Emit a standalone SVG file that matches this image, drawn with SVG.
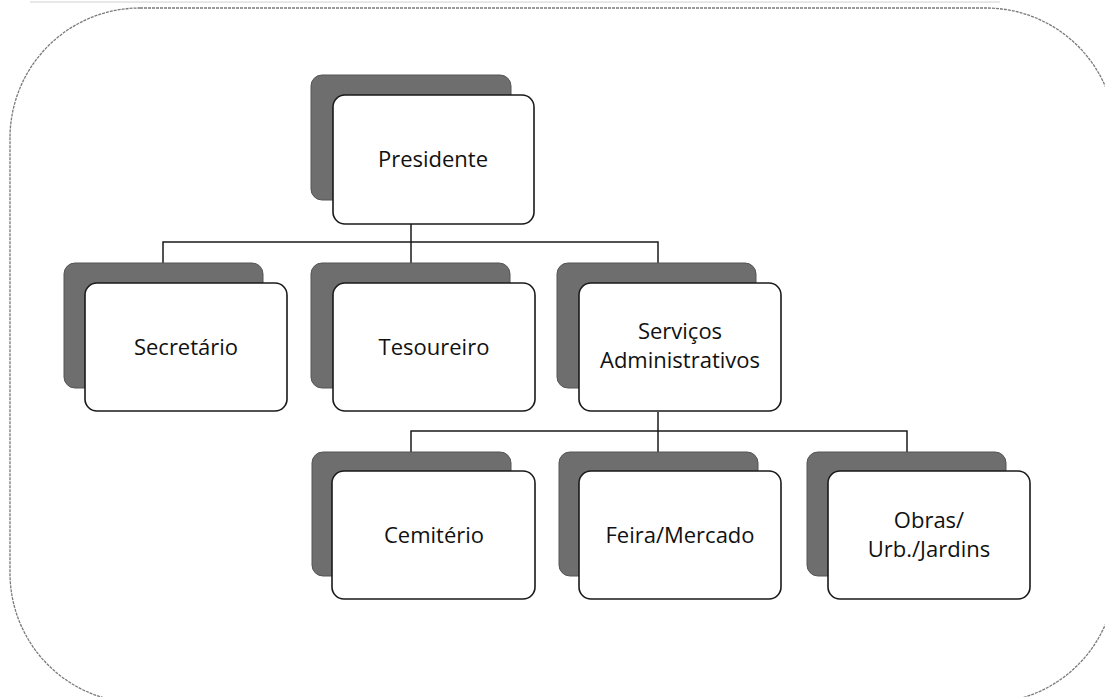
<svg xmlns="http://www.w3.org/2000/svg" width="1105" height="697" viewBox="0 0 1105 697">
<style>
.frame{fill:none;stroke:#7a7a7a;stroke-width:1.3;stroke-dasharray:3 1}
.shadow{fill:#6e6e6e;stroke:#555;stroke-width:1}
.box{fill:#fff;stroke:#1a1a1a;stroke-width:1.6}
.lbl{font-family:"Open Sans","Noto Sans",sans-serif;font-size:22px;fill:#111;text-anchor:middle}
.conn{fill:none;stroke:#1a1a1a;stroke-width:1.5}
</style>
<rect width="1105" height="697" fill="#fff"/>
<line x1="30" y1="2" x2="1000" y2="2" stroke="#d0d0d0" stroke-width="1"/>
<rect class="frame" x="10" y="8" width="1106" height="695" rx="130" ry="130"/>
<g id="connectors">
<path class="conn" d="M411 224V263M163 263V242H658V263"/>
<path class="conn" d="M658 412V452M411 452V431H907V452"/>
</g>
<g id="presidente">
<rect class="shadow" x="311" y="75" width="200" height="125" rx="11"/>
<rect class="box" x="333" y="95" width="201" height="129" rx="12"/>
<text class="lbl" x="433" y="167">Presidente</text>
</g>
<g id="secretario">
<rect class="shadow" x="64" y="263" width="199" height="125" rx="11"/>
<rect class="box" x="85" y="283" width="202" height="128" rx="12"/>
<text class="lbl" x="186" y="355">Secretário</text>
</g>
<g id="tesoureiro">
<rect class="shadow" x="311" y="263" width="199" height="125" rx="11"/>
<rect class="box" x="333" y="283" width="202" height="128" rx="12"/>
<text class="lbl" x="434" y="355">Tesoureiro</text>
</g>
<g id="servicos">
<rect class="shadow" x="557" y="263" width="199" height="125" rx="11"/>
<rect class="box" x="579" y="283" width="202" height="128" rx="12"/>
<text class="lbl" x="680" y="339">Serviços</text>
<text class="lbl" x="680" y="368">Administrativos</text>
</g>
<g id="cemiterio">
<rect class="shadow" x="312" y="452" width="199" height="124" rx="11"/>
<rect class="box" x="332" y="471" width="203" height="128" rx="12"/>
<text class="lbl" x="434" y="543">Cemitério</text>
</g>
<g id="feira">
<rect class="shadow" x="559" y="452" width="199" height="124" rx="11"/>
<rect class="box" x="579" y="471" width="202" height="128" rx="12"/>
<text class="lbl" x="680" y="543">Feira/Mercado</text>
</g>
<g id="obras">
<rect class="shadow" x="807" y="452" width="199" height="124" rx="11"/>
<rect class="box" x="828" y="471" width="202" height="128" rx="12"/>
<text class="lbl" x="929" y="528">Obras/</text>
<text class="lbl" x="929" y="557">Urb./Jardins</text>
</g>
</svg>
